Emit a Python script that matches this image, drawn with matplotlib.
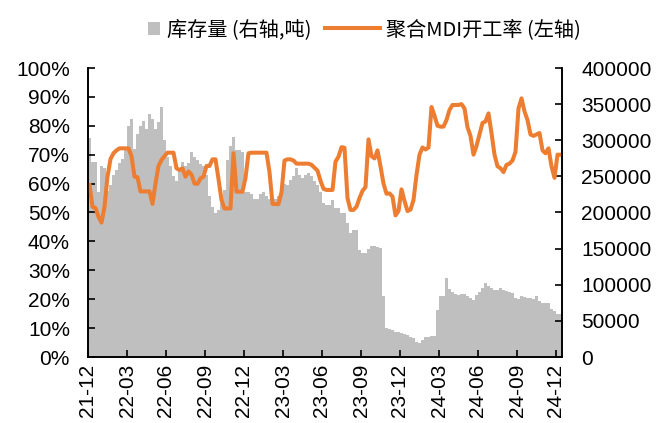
import matplotlib
matplotlib.use("Agg")
import matplotlib.pyplot as plt
from matplotlib.patches import Patch
from matplotlib.lines import Line2D
import numpy as np
import pandas as pd

plt.rcParams['font.family'] = ['Liberation Sans', 'Noto Sans CJK SC', 'DejaVu Sans']

# weekly categories
weeks = pd.date_range('2021-12-03', periods=158, freq='7D')

inventory = [
    303000, 270000, 270000, 229000, 264000, 262000, 230000, 238000, 252000, 259000,
    268000, 274000, 288000, 320000, 330000, 288000, 309000, 320000, 327000, 316000,
    336000, 329000, 315000, 325000, 346000, 300000, 277000, 264000, 250000, 244000,
    259000, 270000, 264000, 268000, 284000, 277000, 273000, 267000, 264000, 252000,
    223000, 208000, 199000, 203000, 213000, 231000, 273000, 292000, 305000, 287000,
    287000, 284000, 229000, 229000, 226000, 218000, 218000, 225000, 228000, 223000,
    218000, 218000, 218000, 223000, 226000, 240000, 238000, 245000, 250000, 261000,
    252000, 248000, 252000, 254000, 250000, 244000, 238000, 229000, 213000, 210000,
    210000, 217000, 206000, 206000, 199000, 199000, 185000, 171000, 176000, 176000,
    148000, 144000, 144000, 150000, 153000, 154000, 152000, 151000, 84000, 40000,
    39000, 38000, 35000, 35000, 33000, 32000, 30000, 28000, 26000, 21000,
    20000, 23000, 27000, 28000, 29000, 29000, 65000, 84000, 84000, 109000,
    94000, 90000, 87000, 86000, 87000, 87000, 84000, 81000, 79000, 86000,
    90000, 95000, 103000, 98000, 96000, 93000, 93000, 95000, 93000, 91000,
    90000, 88000, 81000, 80000, 84000, 83000, 82000, 81000, 80000, 84000,
    77000, 75000, 75000, 75000, 66000, 64000, 60000, 60000,
]

utilization = [
    59.5, 52, 51.5, 48.5, 46.5, 52, 62.4, 68.5, 70.5, 71.5,
    72.2, 72.2, 72.2, 72.2, 69.5, 62.4, 62.2, 57.3, 57.3, 57.3,
    57.3, 53, 60, 66.1, 68.2, 69.5, 70.7, 70.7, 70.7, 65.3,
    64.7, 65.3, 62.4, 64.2, 63.1, 60, 59.9, 61.8, 62.4, 66.1,
    66.1, 68.4, 68.4, 61.6, 54.3, 51.4, 51.4, 51.4, 70.5, 57.2,
    57.2, 57.2, 62, 70.5, 70.7, 70.7, 70.7, 70.7, 70.7, 70.7,
    64, 53, 52.9, 52.9, 57, 68, 68.4, 68.4, 68, 66.9,
    66.9, 66.9, 66.9, 66.9, 66.5, 65.5, 64.5, 61, 58.2, 57.8,
    57.8, 57.8, 67.6, 69.3, 72.6, 72.4, 55, 50.9, 50.9, 52,
    55, 57.5, 58.8, 75.3, 69.5, 68.7, 71.5, 66, 60, 56.5,
    56.6, 55.5, 49, 50.5, 58, 54, 50.5, 51, 54.3, 63,
    70, 72.5, 71.8, 72.5, 86.5, 83.5, 80, 79.7, 79.7, 82,
    85.5, 87.2, 87.2, 87.2, 87.5, 86, 79.5, 76.5, 70, 73,
    77, 81, 81.5, 84.3, 77.5, 70, 66, 65.3, 64, 66.5,
    66.9, 68, 71, 86, 89.5, 85, 82, 77, 76.5, 77,
    77.5, 71.5, 70.5, 72.2, 66, 62, 70, 70,
]

tick_labels = ['21-12', '22-03', '22-06', '22-09', '22-12', '23-03', '23-06',
               '23-09', '23-12', '24-03', '24-06', '24-09', '24-12']
tick_step = 13

bar_label = '库存量 (右轴,吨)'
line_label = '聚合MDI开工率 (左轴)'

bar_color = '#BFBFBF'
line_color = '#ED7D31'

W, H = 659, 423
fig = plt.figure(figsize=(W / 100, H / 100), dpi=100)
ax = fig.add_axes([88/W, 1-357/H, (562-88)/W, (357-68)/H])
ax2 = ax.twinx()

x = np.arange(len(weeks))
ax2.bar(x, inventory, width=1.0, color=bar_color, linewidth=0)
ax.plot(x, utilization, color=line_color, linewidth=2.9, solid_joinstyle='round')

ax.set_zorder(ax2.get_zorder() + 1)
ax.patch.set_visible(False)

ax.set_xlim(-0.5, len(weeks) - 0.5)
ax.set_ylim(0, 100)
ax2.set_ylim(0, 400000)

ax.set_yticks(np.arange(0, 101, 10))
ax.set_yticklabels([f'{v}%' for v in range(0, 101, 10)])
ax2.set_yticks(np.arange(0, 400001, 50000))
ax2.set_yticklabels([f'{v}' for v in range(0, 400001, 50000)])

ticks = [i * tick_step - 0.5 for i in range(len(tick_labels))]
ax.set_xticks(ticks)
ax.set_xticklabels(tick_labels, rotation=90)

for a in (ax, ax2):
    a.spines['top'].set_visible(False)
    for s in ('left', 'right', 'bottom'):
        a.spines[s].set_color('black')
        a.spines[s].set_linewidth(1.2)

ax.tick_params(axis='y', direction='in', length=5, width=1.2, labelsize=15, pad=13)
ax.tick_params(axis='x', direction='in', length=5, width=1.2, labelsize=15, pad=5)
ax2.tick_params(axis='y', direction='in', length=5, width=1.2, labelsize=15, pad=14)

fs = 14.5
prop = {'family': ['Noto Sans CJK SC', 'DejaVu Sans'], 'size': fs}
em = fs * 100 / 72  # pixels per em

leg1 = fig.legend([Patch(facecolor=bar_color, edgecolor='none')], [bar_label],
                  loc='center left', bbox_to_anchor=(148/W, 1-30/H), frameon=False,
                  prop=prop, borderpad=0, borderaxespad=0,
                  handlelength=12/em, handleheight=12/em, handletextpad=7/em)
leg2 = fig.legend([Line2D([0], [0], color=line_color, linewidth=2.9)], [line_label],
                  loc='center left', bbox_to_anchor=(325/W, 1-30/H), frameon=False,
                  prop=prop, borderpad=0, borderaxespad=0,
                  handlelength=55/em, handletextpad=6/em)

fig.savefig('out.png', dpi=100)
